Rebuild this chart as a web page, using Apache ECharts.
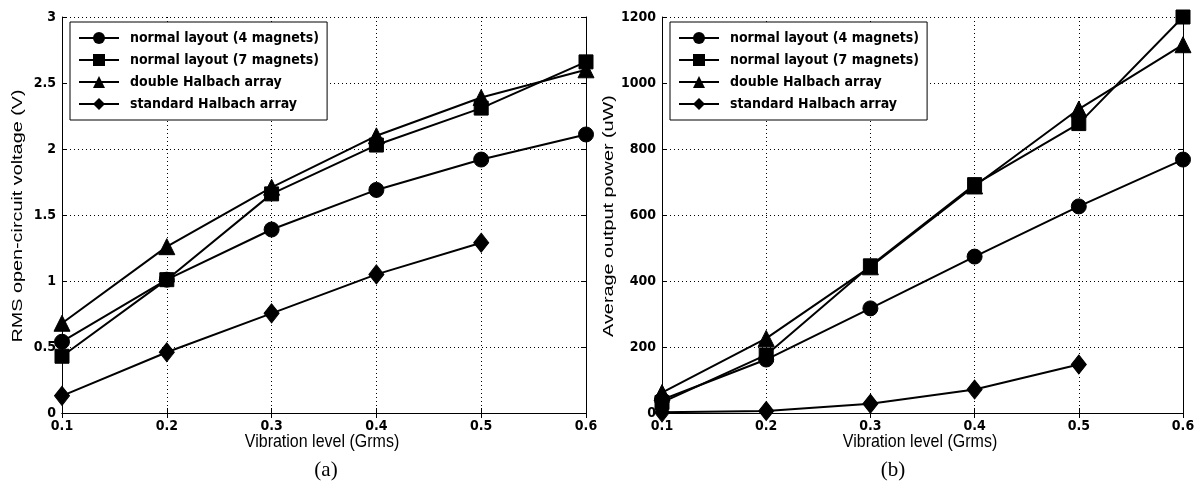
<!DOCTYPE html>
<html>
<head>
<meta charset="utf-8">
<script src="https://cdn.jsdelivr.net/npm/echarts@6/dist/echarts.min.js"></script>
<style>
  html, body { margin: 0; padding: 0; background: #fff; }
  #chart { width: 1198px; height: 493px; }
</style>
</head>
<body>
<div id="chart"></div>
<script>
// Vibration levels (Grms) shared by both panels
const vibration = [0.1, 0.2, 0.3, 0.4, 0.5, 0.6];

const seriesNames = [
  'normal layout (4 magnets)',
  'normal layout (7 magnets)',
  'double Halbach array',
  'standard Halbach array'
];

// (a) RMS open-circuit voltage (V)
const voltNormal4 = [0.54, 1.01, 1.39, 1.69, 1.92, 2.11];
const voltNormal7 = [0.43, 1.01, 1.66, 2.03, 2.31, 2.66];
const voltDouble  = [0.68, 1.26, 1.71, 2.10, 2.39, 2.60];
const voltStd     = [0.13, 0.46, 0.755, 1.05, 1.29];

// (b) Average output power (uW)
const powNormal4 = [40, 162, 317, 474, 626, 768];
const powNormal7 = [32, 176, 446, 692, 877, 1200];
const powDouble  = [62, 226, 443, 688, 921, 1116];
const powStd     = [2, 6, 28, 71, 147];

const symbols = ['circle', 'rect', 'triangle', 'diamond'];
const symbolSizes = [15, 14, 16, [15, 19]];

const FONT_TICK = "'Liberation Sans Narrow', 'DejaVu Sans Condensed', 'Arial Narrow', sans-serif";
const FONT_NAME = "'Liberation Sans', Arial, sans-serif";
const FONT_CAPTION = "'Liberation Serif', 'Times New Roman', serif";

function pairs(ys) {
  return ys.map((y, i) => [vibration[i], y]);
}

function makeSeries(datasets, axisIdx) {
  return datasets.map((ys, k) => ({
    name: seriesNames[k],
    type: 'line',
    xAxisIndex: axisIdx,
    yAxisIndex: axisIdx,
    data: pairs(ys),
    symbol: symbols[k],
    symbolSize: symbolSizes[k],
    showAllSymbol: true,
    lineStyle: { color: '#000', width: 2 },
    itemStyle: { color: '#000', borderColor: '#000' },
    emphasis: { disabled: true },
    animation: false,
    z: 3
  }));
}

const tickLabel = { color: '#000', fontFamily: FONT_TICK, fontWeight: 'bold', fontSize: 14 };
const gridLine = { show: true, lineStyle: { color: '#000', type: [1, 3], width: 1 } };
const frameLine = { show: true, lineStyle: { color: '#000', width: 1 } };
const innerTick = { show: true, inside: true, length: 5, lineStyle: { color: '#000' } };

function xAxisFor(gridIndex) {
  return [{
    type: 'value', gridIndex, min: 0.1, max: 0.6, interval: 0.1,
    axisLine: frameLine, axisTick: innerTick,
    axisLabel: Object.assign({ margin: 6, formatter: v => v.toFixed(1) }, tickLabel),
    splitLine: gridLine
  }, {
    type: 'value', gridIndex, min: 0.1, max: 0.6, interval: 0.1, position: 'top',
    axisLine: frameLine, axisTick: innerTick,
    axisLabel: { show: false }, splitLine: { show: false }
  }];
}

function yAxisFor(gridIndex, max, interval) {
  return [{
    type: 'value', gridIndex, min: 0, max, interval,
    axisLine: frameLine, axisTick: innerTick,
    axisLabel: Object.assign({ margin: 6, formatter: v => String(v) }, tickLabel),
    splitLine: gridLine
  }, {
    type: 'value', gridIndex, min: 0, max, interval, position: 'right',
    axisLine: frameLine, axisTick: innerTick,
    axisLabel: { show: false }, splitLine: { show: false }
  }];
}

function legendAt(left) {
  return {
    data: seriesNames,
    orient: 'vertical',
    left, top: 22,
    itemWidth: 40, itemHeight: 15, itemGap: 8,
    padding: [9, 8, 9, 8],
    backgroundColor: '#fff',
    borderColor: '#000', borderWidth: 1,
    selectedMode: false,
    textStyle: { color: '#000', fontFamily: FONT_TICK, fontWeight: 'bold', fontSize: 14, padding: [0, 0, 0, 6] }
  };
}

// axis titles, drawn slightly tall like the rest of the lettering
function axisTitle(text, x, y, vertical) {
  return {
    type: 'text', x, y,
    rotation: vertical ? Math.PI / 2 : 0,
    scaleX: vertical ? 1.32 : 1.0,
    scaleY: vertical ? 1.0 : 1.12,
    style: {
      text, fill: '#000', font: (vertical ? '15px ' : '16px ') + FONT_NAME,
      align: 'center', verticalAlign: 'middle'
    }
  };
}

function caption(text, x, y) {
  return {
    type: 'text', x, y,
    style: { text, fill: '#000', font: '21px ' + FONT_CAPTION, align: 'center', verticalAlign: 'middle' }
  };
}

const xa = xAxisFor(0), xb = xAxisFor(1);
const ya = yAxisFor(0, 3, 0.5), yb = yAxisFor(1, 1200, 200);

const option = {
  backgroundColor: '#fff',
  animation: false,
  grid: [
    { left: 62, right: 612, top: 17, bottom: 80, containLabel: false },
    { left: 662, right: 15, top: 17, bottom: 80, containLabel: false }
  ],
  // axes 0,1 -> panel (a) / (b) frames with labels; axes 2,3 -> top and right frame edges
  xAxis: [xa[0], xb[0], xa[1], xb[1]],
  yAxis: [ya[0], yb[0], ya[1], yb[1]],
  legend: [legendAt(70), legendAt(670)],
  series: [
    ...makeSeries([voltNormal4, voltNormal7, voltDouble, voltStd], 0),
    ...makeSeries([powNormal4, powNormal7, powDouble, powStd], 1)
  ],
  graphic: [
    axisTitle('Vibration level (Grms)', 322, 442, false),
    axisTitle('Vibration level (Grms)', 920, 442, false),
    axisTitle('RMS open-circuit voltage (V)', 18, 216, true),
    axisTitle('Average output power (uW)', 609, 216, true),
    caption('(a)', 326, 470),
    caption('(b)', 893, 470)
  ]
};

const chart = echarts.init(document.getElementById('chart'), null, { renderer: 'canvas' });
chart.setOption(option);
</script>
</body>
</html>
